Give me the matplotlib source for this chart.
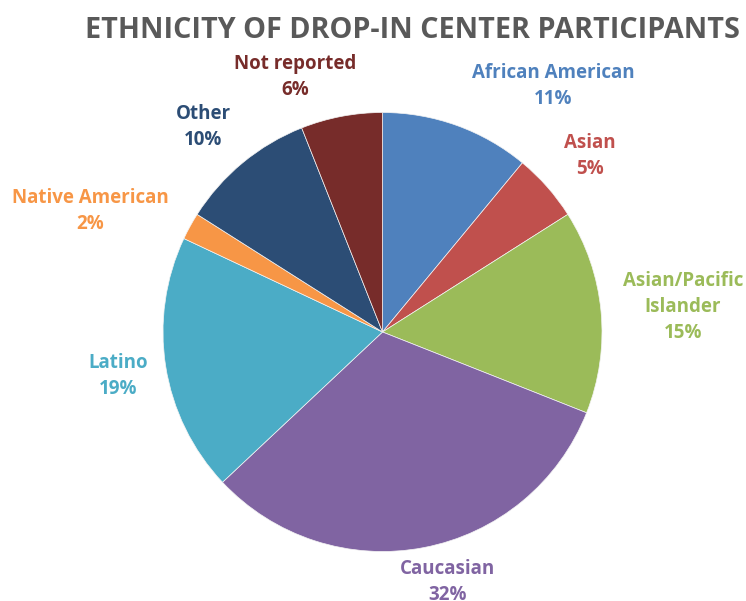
import matplotlib.pyplot as plt

categories = ["African American", "Asian", "Asian/Pacific\nIslander", "Caucasian",
              "Latino", "Native American", "Other", "Not reported"]
shares = [11, 5, 15, 32, 19, 2, 10, 6]
colors = ["#4F81BD", "#C0504D", "#9BBB59", "#8064A2",
          "#4BACC6", "#F79646", "#2C4D75", "#772C2A"]

# label centres in pixels (x, y from top) of the 746x601 image
label_px = [(553, 86), (590, 156), (683, 307), (448, 582),
            (118, 376), (90, 211), (203, 127), (295, 77)]

W, H = 746, 601
cx, cy, r = 382.5, 332, 219.5

fig = plt.figure(figsize=(W / 100, H / 100), dpi=100)
ax = fig.add_axes([(cx - r) / W, (H - cy - r) / H, 2 * r / W, 2 * r / H])
ax.pie(shares, colors=colors, startangle=90, counterclock=False, radius=1,
       wedgeprops=dict(linewidth=0.5, edgecolor="#f4f4f4"))
ax.set_xlim(-1, 1)
ax.set_ylim(-1, 1)
ax.set_aspect("equal")
ax.axis("off")

for name, val, col, (px, py) in zip(categories, shares, colors, label_px):
    fig.text(px / W, 1 - py / H, f"{name}\n{val}%", color=col, ha="center",
             va="center", fontsize=13.5, fontweight="bold", family="Open Sans",
             linespacing=1.4)

fig.text(412 / W, 1 - 31 / H, "ETHNICITY OF DROP-IN CENTER PARTICIPANTS",
         ha="center", va="center", fontsize=20.7, fontweight="bold",
         color="#595959", family="Open Sans")

fig.savefig("out.png", dpi=100, facecolor="white")
